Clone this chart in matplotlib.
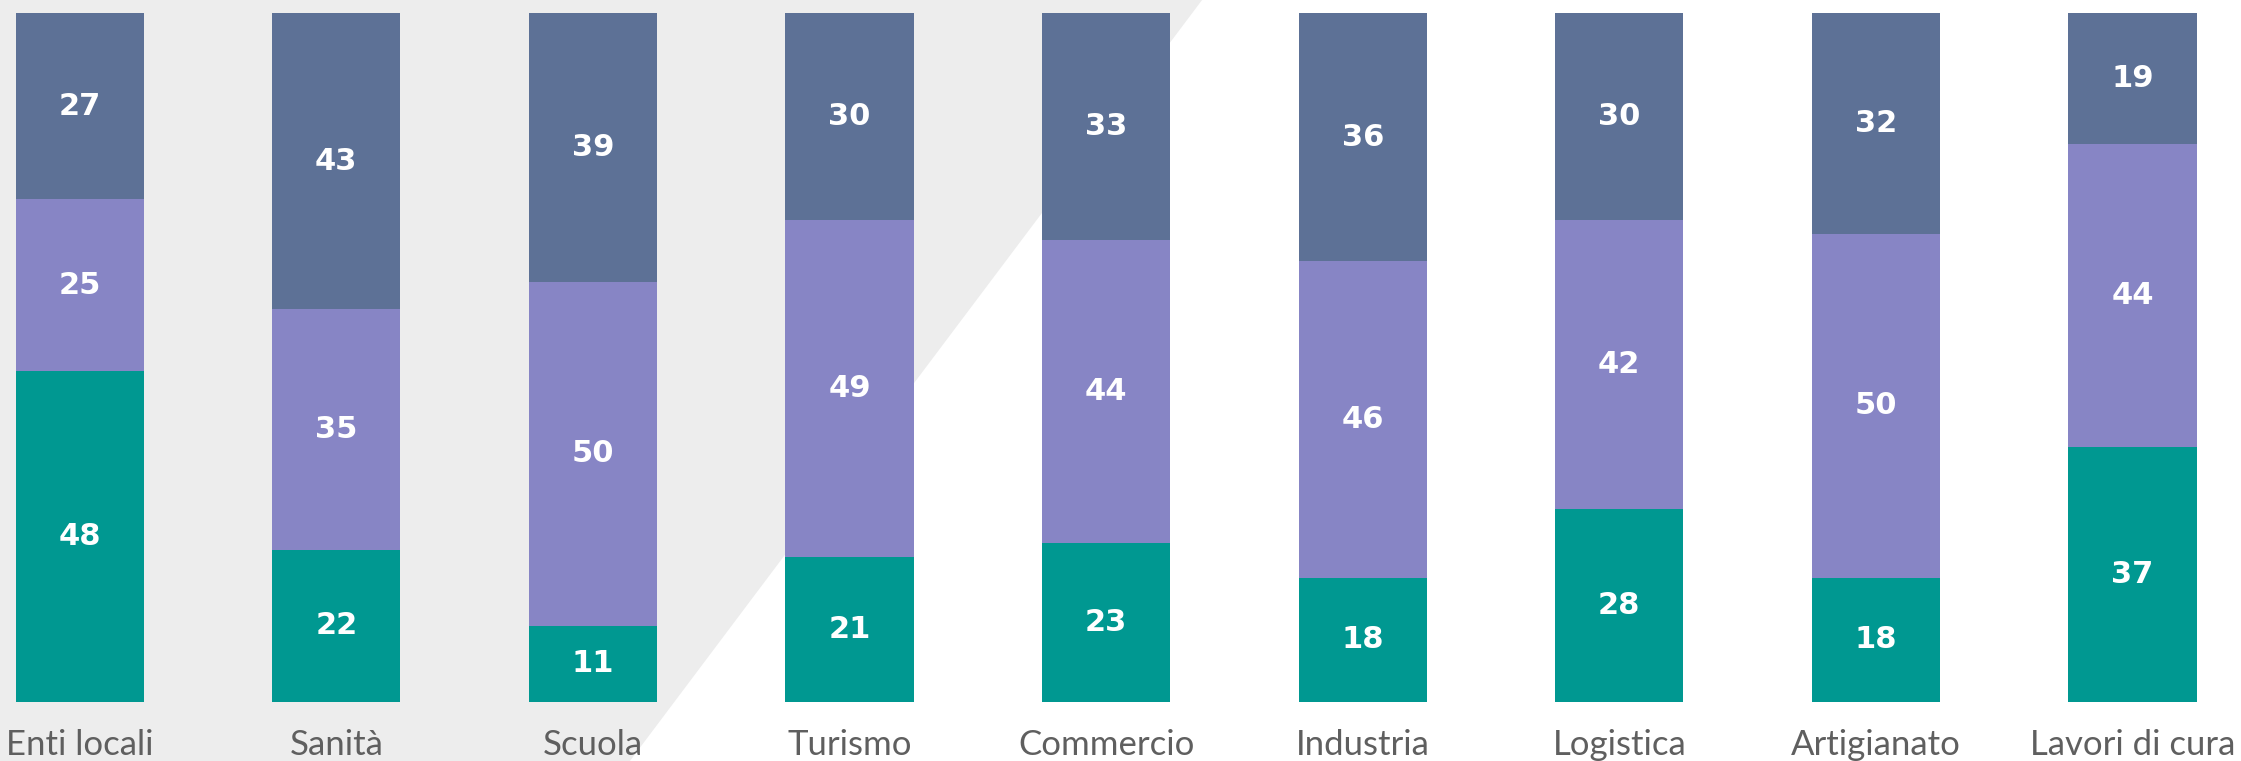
import matplotlib
matplotlib.use("Agg")
import matplotlib.pyplot as plt
from matplotlib.patches import Polygon
import numpy as np

# ─────────────────────────────────────────────
# DATA
# ─────────────────────────────────────────────
settori = ["Enti locali", "Sanità", "Scuola", "Turismo", "Commercio",
           "Industria", "Logistica", "Artigianato", "Lavori di cura"]
quota_basso = [48, 22, 11, 21, 23, 18, 28, 18, 37]
quota_medio = [25, 35, 50, 49, 44, 46, 42, 50, 44]
quota_alto  = [27, 43, 39, 30, 33, 36, 30, 32, 19]

WARNA_BASSO = "#009891"
WARNA_MEDIO = "#8785C5"
WARNA_ALTO  = "#5D7196"
GRIGIO_BG   = "#EDEDED"

fig = plt.figure(figsize=(22.41, 7.61), dpi=100)
fig.patch.set_facecolor("white")
ax = fig.add_axes([0, 0, 1, 1])
ax.set_facecolor("none")

# sfondo grigio diagonale
bg = Polygon([(0, 1), (0.5364, 1), (0.2811, 0), (0, 0)], closed=True,
             transform=ax.transAxes, facecolor=GRIGIO_BG, edgecolor="none",
             zorder=0)
ax.add_patch(bg)

x = np.arange(len(settori))
basso = np.array(quota_basso, dtype=float)
medio = np.array(quota_medio, dtype=float)
alto = np.array(quota_alto, dtype=float)

w = 0.5
b1 = ax.bar(x, basso, w, color=WARNA_BASSO, zorder=2)
b2 = ax.bar(x, medio, w, bottom=basso, color=WARNA_MEDIO, zorder=2)
b3 = ax.bar(x, alto, w, bottom=basso + medio, color=WARNA_ALTO, zorder=2)

for bars, vals in ((b1, basso), (b2, medio), (b3, alto)):
    for bar, v in zip(bars, vals):
        ax.text(bar.get_x() + bar.get_width() / 2,
                bar.get_y() + bar.get_height() / 2,
                f"{int(v)}", ha="center", va="center",
                fontsize=22, fontweight="bold", color="white", zorder=3)

for xi, nome in zip(x, settori):
    ax.text(xi, -6.3, nome, ha="center", va="center",
            fontsize=25, color="#5f5f5f",
            family=["Lato", "DejaVu Sans"], zorder=3)

ax.set_xlim(-0.3106, 8.4228)
ax.set_ylim(-8.61, 101.93)
ax.axis("off")

fig.savefig("out.png", dpi=100, facecolor=fig.get_facecolor())
